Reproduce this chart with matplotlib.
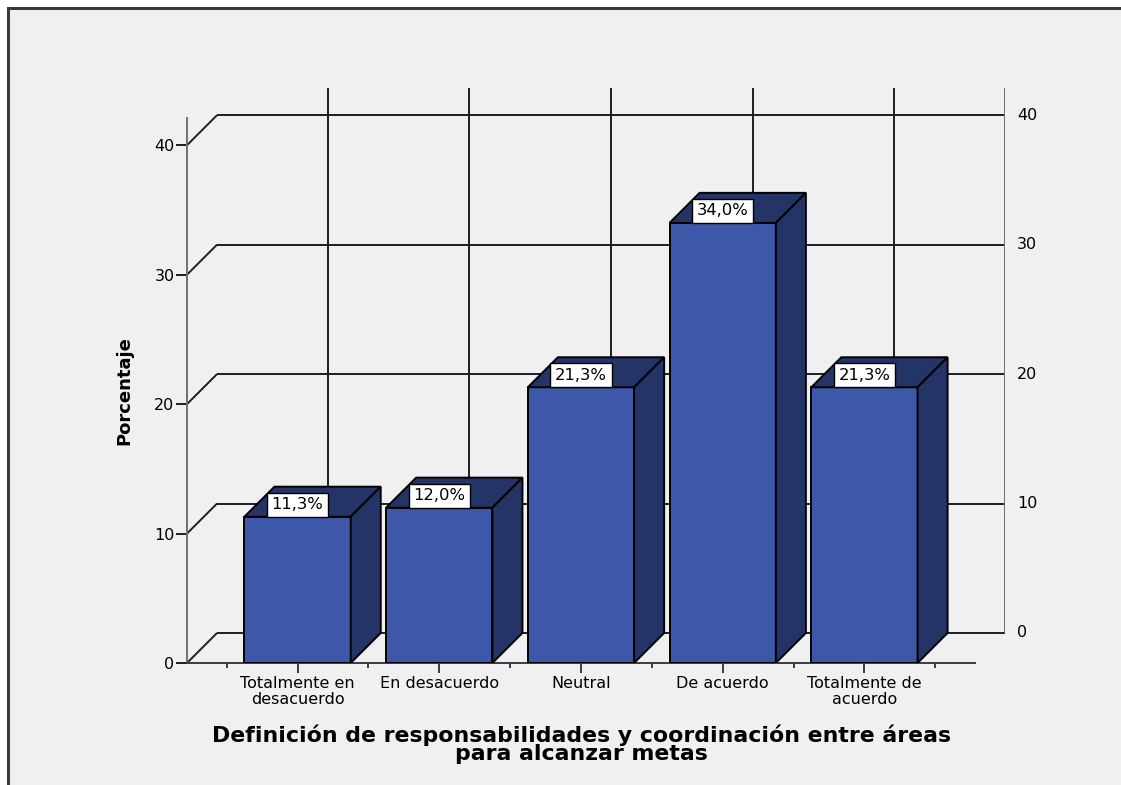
import numpy as np
import matplotlib
matplotlib.use('Agg')
import matplotlib.pyplot as plt
from matplotlib.patches import Rectangle, Polygon

# data
categories = ['Totalmente en\ndesacuerdo', 'En desacuerdo', 'Neutral',
              'De acuerdo', 'Totalmente de\nacuerdo']
porcentajes = [11.3, 12.0, 21.3, 34.0, 21.3]
y_ticks = [0, 10, 20, 30, 40]

# 3d box layout (data units)
XMIN, XMAX = -0.78, 4.78
YTOP = 42.1
DX, DY = 0.212, 2.32
BAR_W = 0.75

FRONT = '#3d57a9'
DARK = '#253466'
GRID = '#1e1e1e'
AXIS_GRAY = '#707070'

W, H = 1121, 785
fig = plt.figure(figsize=(W / 100, H / 100), dpi=100)
fig.patch.set_facecolor('white')
fig.add_artist(Rectangle((8 / W, -0.05), 1.1, (H - 8) / H + 0.05,
                         transform=fig.transFigure, facecolor='#f0f0f0',
                         edgecolor='#3a3a3a', lw=2.2, zorder=-10))

ax = fig.add_axes([187 / W, 122 / H, 818 / W, 575 / H])
ax.patch.set_visible(False)
ax.set_xlim(XMIN, XMAX + DX)
ax.set_ylim(0, YTOP + DY)

for s in ['top', 'right']:
    ax.spines[s].set_visible(False)
ax.spines['left'].set_bounds(0, YTOP)
ax.spines['left'].set_color(AXIS_GRAY)
ax.spines['left'].set_linewidth(1.4)
ax.spines['bottom'].set_bounds(XMIN, XMAX)
ax.spines['bottom'].set_color('#3c3c3c')
ax.spines['bottom'].set_linewidth(1.4)

ax.set_yticks(y_ticks)
ax.tick_params(axis='y', length=8, width=1.4, color=GRID, pad=1, labelsize=11.5)
ax.set_xticks(range(len(categories)))
ax.set_xticklabels(categories, linespacing=1.1)
ax.set_xticks(np.arange(len(categories) + 1) - 0.5, minor=True)
ax.tick_params(axis='x', which='major', length=7, width=1.4, color='#3c3c3c',
               pad=2, labelsize=11.5)
ax.tick_params(axis='x', which='minor', length=3.5, width=1.4, color='#3c3c3c')

# back wall: gridlines, left connectors, category lines, right axis
ax.hlines([t + DY for t in y_ticks], XMIN + DX, XMAX + DX + 0.075,
          colors=GRID, lw=1.4, zorder=1)
for t in y_ticks:
    ax.plot([XMIN, XMIN + DX], [t, t + DY], color=GRID, lw=1.4, zorder=1,
            solid_capstyle='butt')
ax.vlines(np.arange(len(categories)) + DX, DY, YTOP + DY, colors=GRID, lw=1.4,
          zorder=1)
ax.vlines(XMAX + DX, DY, YTOP + DY, colors=AXIS_GRAY, lw=1.4, zorder=1.5)
for t in y_ticks:
    ax.text(XMAX + DX + 0.085, t + DY, str(t), ha='left', va='center',
            fontsize=11.5)

# bars as 3d boxes
for i, v in enumerate(porcentajes):
    x0, x1 = i - BAR_W / 2, i + BAR_W / 2
    ax.add_patch(Rectangle((x0, 0), BAR_W, v, facecolor=FRONT,
                           edgecolor='black', lw=1.4, zorder=3))
    ax.add_patch(Polygon([(x0, v), (x0 + DX, v + DY), (x1 + DX, v + DY), (x1, v)],
                         closed=True, facecolor=DARK, edgecolor='black',
                         lw=1.4, zorder=3))
    ax.add_patch(Polygon([(x1, 0), (x1 + DX, DY), (x1 + DX, v + DY), (x1, v)],
                         closed=True, facecolor=DARK, edgecolor='black',
                         lw=1.4, zorder=3))
    ax.annotate(f'{v:.1f}%'.replace('.', ','), (i, v), xytext=(0, 3.2),
                textcoords='offset points', ha='center', va='bottom',
                fontsize=11.8, zorder=5,
                bbox=dict(boxstyle='square,pad=0.28', facecolor='white',
                          edgecolor='black', lw=1))

ax.set_xlabel('Definición de responsabilidades y coordinación entre áreas\n'
              'para alcanzar metas', fontsize=15.8, fontweight='bold',
              linespacing=0.88)
ax.xaxis.set_label_coords((581 - 187) / 818, -0.107)
ax.set_ylabel('Porcentaje', fontsize=13, fontweight='bold')
ax.yaxis.set_label_coords((133 - 187) / 818, (YTOP / 2) / (YTOP + DY))

fig.savefig('out.png', dpi=100)
